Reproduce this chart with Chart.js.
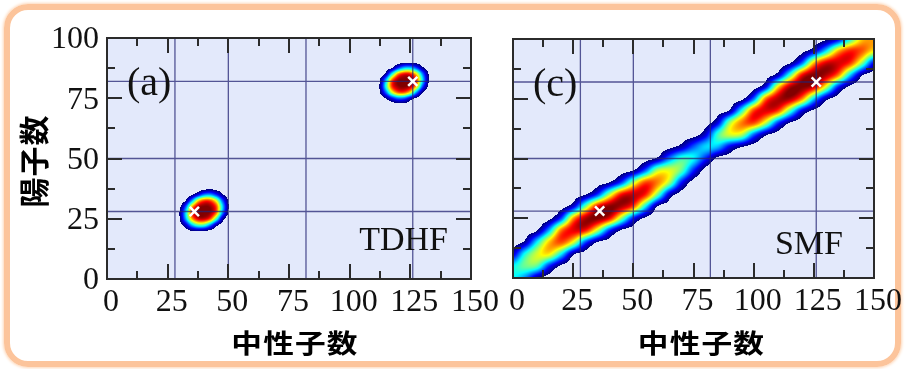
<!DOCTYPE html>
<html>
<head>
<meta charset="utf-8">
<script src="https://cdn.jsdelivr.net/npm/chart.js@4/dist/chart.umd.min.js"></script>
<style>
  body { margin: 0; background: #fff; }
  #frame { position: absolute; left: 4px; top: 4px; width: 897px; height: 363px; box-sizing: border-box;
           border: 6px solid #fcc49b; border-radius: 24px; box-shadow: 0 0 3px 1px #fdd6b6; }
  #left { position: absolute; left: 0; top: 0; }
  #right { position: absolute; left: 485px; top: 0; }
</style>
</head>
<body>
<div id="frame"></div>
<canvas id="left" width="505" height="369"></canvas>
<canvas id="right" width="423" height="369"></canvas>
<script>
// axis ticks
const nTicks = [0, 25, 50, 75, 100, 125, 150];
const zTicks = [0, 25, 50, 75, 100];
// magic numbers drawn as guide lines
const magicN = [28, 50, 82, 126];
const magicZ = [28, 50, 82];
// fragment markers (N, Z)
const fragN = [36, 126];
const fragZ = [28, 82];

// SMF probability map, % of peak; columns N = 0,5,...,150, rows Z = 100 (top) ... 0 (bottom)
const smfN0 = 0, smfZTop = 100, smfStep = 5;
const smfRows = [
  [0,0,0,0,0,0,0,0,0,0,0,0,0,0,0,0,0,0,0,0,0,0,0,0,0,0,2,13,42,69,74],
  [0,0,0,0,0,0,0,0,0,0,0,0,0,0,0,0,0,0,0,0,0,0,0,0,1,12,37,70,85,80,65],
  [0,0,0,0,0,0,0,0,0,0,0,0,0,0,0,0,0,0,0,0,0,0,0,3,25,70,91,92,84,54,16],
  [0,0,0,0,0,0,0,0,0,0,0,0,0,0,0,0,0,0,0,0,0,0,9,45,87,100,96,78,37,6,0],
  [0,0,0,0,0,0,0,0,0,0,0,0,0,0,0,0,0,0,0,0,0,15,65,95,100,92,61,20,2,0,0],
  [0,0,0,0,0,0,0,0,0,0,0,0,0,0,0,0,0,0,0,1,26,77,95,96,76,36,8,0,0,0,0],
  [0,0,0,0,0,0,0,0,0,0,0,0,0,0,0,0,0,0,6,42,82,91,83,49,15,2,0,0,0,0,0],
  [0,0,0,0,0,0,0,0,0,0,0,0,0,0,0,0,0,13,54,76,82,59,23,4,0,0,0,0,0,0,0],
  [0,0,0,0,0,0,0,0,0,0,0,0,0,0,0,0,12,45,60,57,26,6,0,0,0,0,0,0,0,0,0],
  [0,0,0,0,0,0,0,0,0,0,0,0,0,1,8,24,36,34,15,5,0,0,0,0,0,0,0,0,0,0,0],
  [0,0,0,0,0,0,0,0,0,0,0,0,6,28,45,40,19,1,0,0,0,0,0,0,0,0,0,0,0,0,0],
  [0,0,0,0,0,0,0,0,0,0,4,25,57,61,49,19,0,0,0,0,0,0,0,0,0,0,0,0,0,0,0],
  [0,0,0,0,0,0,0,0,4,22,56,81,76,56,18,0,0,0,0,0,0,0,0,0,0,0,0,0,0,0,0],
  [0,0,0,0,0,0,3,20,56,87,93,86,52,12,0,0,0,0,0,0,0,0,0,0,0,0,0,0,0,0,0],
  [0,0,0,0,0,12,50,87,99,96,81,40,4,0,0,0,0,0,0,0,0,0,0,0,0,0,0,0,0,0,0],
  [0,0,0,1,22,72,95,100,89,54,18,2,0,0,0,0,0,0,0,0,0,0,0,0,0,0,0,0,0,0,0],
  [0,0,3,32,76,90,87,59,22,3,0,0,0,0,0,0,0,0,0,0,0,0,0,0,0,0,0,0,0,0,0],
  [0,7,39,69,81,62,24,4,0,0,0,0,0,0,0,0,0,0,0,0,0,0,0,0,0,0,0,0,0,0,0],
  [12,42,60,65,39,6,0,0,0,0,0,0,0,0,0,0,0,0,0,0,0,0,0,0,0,0,0,0,0,0,0],
  [40,50,48,19,2,0,0,0,0,0,0,0,0,0,0,0,0,0,0,0,0,0,0,0,0,0,0,0,0,0,0],
  [41,29,7,0,0,0,0,0,0,0,0,0,0,0,0,0,0,0,0,0,0,0,0,0,0,0,0,0,0,0,0]
];

// TDHF light fragment, columns N = 27.5 ... 52.5, rows Z = 40 ... 17.5 (step 2.5)
const lightN0 = 27.5, lightZTop = 40, tdhfStep = 2.5;
const lightRows = [
  [0,0,0,0,0,0,0,0,0,0,0],
  [0,0,0,0,0,1,2,1,0,0,0],
  [0,0,0,3,14,28,31,20,6,0,0],
  [0,0,5,31,66,82,81,61,26,3,0],
  [0,2,25,70,95,100,98,82,38,5,0],
  [0,5,38,83,99,100,98,78,31,3,0],
  [0,4,33,71,91,93,81,47,10,0,0],
  [0,1,12,35,50,49,31,9,1,0,0],
  [0,0,1,4,6,5,2,0,0,0,0],
  [0,0,0,0,0,0,0,0,0,0,0]
];
// TDHF heavy fragment, columns N = 110 ... 135, rows Z = 92.5 ... 70
const heavyN0 = 110, heavyZTop = 92.5;
const heavyRows = [
  [0,0,0,0,0,0,0,0,0,0,0],
  [0,0,0,0,0,2,2,1,0,0,0],
  [0,0,0,5,22,36,37,24,7,0,0],
  [0,0,9,43,76,89,87,67,29,4,0],
  [0,4,34,79,98,100,98,83,38,5,0],
  [0,6,43,84,98,100,95,70,25,2,0],
  [0,4,27,61,80,81,65,31,5,0,0],
  [0,0,5,17,27,25,12,2,0,0,0],
  [0,0,0,0,1,1,0,0,0,0,0],
  [0,0,0,0,0,0,0,0,0,0,0]
];

const LEVEL_MIN = 4; // below this the map is left blank
const serif = '"Liberation Serif", "Times New Roman", serif';
const cjk = '"Noto Sans CJK JP", sans-serif';

function jet(t) {
  const c = u => Math.round(255 * Math.min(1, Math.max(0, u)));
  return [c(1.5 - Math.abs(4 * t - 3)), c(1.5 - Math.abs(4 * t - 2)), c(1.5 - Math.abs(4 * t - 1))];
}

// Catmull-Rom weights for smooth shading between grid cells
function crWeights(t) {
  const t2 = t * t, t3 = t2 * t;
  return [(-t3 + 2 * t2 - t) / 2, (3 * t3 - 5 * t2 + 2) / 2, (-3 * t3 + 4 * t2 + t) / 2, (t3 - t2) / 2];
}

function sample(p, n, z) {
  const cols = p.rows[0].length, nr = p.rows.length;
  let fx = (n - p.n0) / p.step, fy = (p.zTop - z) / p.step;
  if (fx < -0.05 || fy < -0.05 || fx > cols - 0.95 || fy > nr - 0.95) return 0;
  fx = Math.min(Math.max(fx, 0), cols - 1);
  fy = Math.min(Math.max(fy, 0), nr - 1);
  const i = Math.min(Math.floor(fx), cols - 2), j = Math.min(Math.floor(fy), nr - 2);
  const wx = crWeights(fx - i), wy = crWeights(fy - j);
  let v = 0;
  for (let b = 0; b < 4; b++) {
    const row = p.rows[Math.min(Math.max(j - 1 + b, 0), nr - 1)];
    let s = 0;
    for (let a = 0; a < 4; a++) s += wx[a] * row[Math.min(Math.max(i - 1 + a, 0), cols - 1)];
    v += wy[b] * s;
  }
  return Math.min(100, v);
}

function drawField(chart, patches) {
  const {ctx, chartArea: a, scales: {x, y}} = chart;
  const w = Math.round(a.right - a.left), h = Math.round(a.bottom - a.top);
  const off = document.createElement('canvas');
  off.width = w; off.height = h;
  const octx = off.getContext('2d');
  const img = octx.createImageData(w, h);
  for (let j = 0; j < h; j++) {
    const z = y.getValueForPixel(a.top + j + 0.5);
    for (let i = 0; i < w; i++) {
      const n = x.getValueForPixel(a.left + i + 0.5);
      let v = 0;
      patches.forEach(p => { v = Math.max(v, sample(p, n, z)); });
      if (v < LEVEL_MIN) continue;
      const rgb = jet((v - LEVEL_MIN) / (100 - LEVEL_MIN));
      const k = (j * w + i) * 4;
      img.data[k] = rgb[0]; img.data[k + 1] = rgb[1]; img.data[k + 2] = rgb[2]; img.data[k + 3] = 255;
    }
  }
  octx.putImageData(img, 0, 0);
  ctx.drawImage(off, a.left, a.top);
}

function panelPlugin(cfg) {
  return {
    id: 'panel',
    beforeDatasetsDraw(chart) {
      const {ctx, chartArea: a, scales: {x, y}} = chart;
      ctx.save();
      ctx.fillStyle = '#e3e9fb';
      ctx.fillRect(a.left, a.top, a.right - a.left, a.bottom - a.top);
      drawField(chart, cfg.patches);
      ctx.strokeStyle = 'rgba(35,35,115,0.75)';
      ctx.lineWidth = 1.3;
      ctx.beginPath();
      magicN.forEach(n => {
        const px = x.getPixelForValue(n);
        ctx.moveTo(px, a.top); ctx.lineTo(px, a.bottom);
      });
      magicZ.forEach(z => {
        const py = y.getPixelForValue(z);
        ctx.moveTo(a.left, py); ctx.lineTo(a.right, py);
      });
      ctx.stroke();
      ctx.restore();
    },
    afterDraw(chart) {
      const {ctx, chartArea: a, scales: {x, y}} = chart;
      ctx.save();
      // frame with inward ticks on all four sides
      ctx.strokeStyle = '#2b2b2b';
      ctx.lineWidth = 2;
      ctx.strokeRect(a.left, a.top, a.right - a.left, a.bottom - a.top);
      ctx.beginPath();
      for (let n = 12.5; n < 150; n += 12.5) {
        const len = n % 25 === 0 ? 15 : 8;
        const px = Math.round(x.getPixelForValue(n));
        ctx.moveTo(px, a.bottom); ctx.lineTo(px, a.bottom - len);
        ctx.moveTo(px, a.top); ctx.lineTo(px, a.top + len);
      }
      for (let z = 12.5; z < 100; z += 12.5) {
        const len = z % 25 === 0 ? 15 : 8;
        const py = Math.round(y.getPixelForValue(z));
        ctx.moveTo(a.left, py); ctx.lineTo(a.left + len, py);
        ctx.moveTo(a.right, py); ctx.lineTo(a.right - len, py);
      }
      ctx.stroke();

      // panel tag and method name
      ctx.fillStyle = '#111';
      ctx.textBaseline = 'alphabetic';
      ctx.textAlign = 'left';
      ctx.font = '40px ' + serif;
      ctx.fillText(cfg.tag, a.left + 20, a.top + 57);
      ctx.textAlign = 'right';
      ctx.font = '34px ' + serif;
      ctx.fillText(cfg.method, a.right - cfg.methodDx, a.bottom - cfg.methodDy);

      // axis titles
      ctx.fillStyle = '#000';
      ctx.textAlign = 'center';
      ctx.textBaseline = 'middle';
      ctx.save();
      ctx.translate((a.left + a.right) / 2 + cfg.titleDx, 343);
      ctx.scale(1.18, 1);
      ctx.font = 'bold 26px ' + cjk;
      ctx.letterSpacing = '1px';
      ctx.fillText('中性子数', 0, 0);
      ctx.restore();
      if (cfg.yTitle) {
        ctx.letterSpacing = '1px';
        ctx.font = 'bold 30px ' + cjk;
        ctx.translate(34, 161);
        ctx.rotate(-Math.PI / 2);
        ctx.fillText('陽子数', 0, 0);
      }
      ctx.restore();
    }
  };
}

function nAxis(height) {
  return {
    type: 'linear', min: 0, max: 150,
    afterBuildTicks: s => { s.ticks = nTicks.map(v => ({value: v})); },
    afterFit: s => { s.height = height; },
    grid: {display: false, drawTicks: false},
    border: {display: false},
    ticks: {autoSkip: false, maxRotation: 0, padding: 4, labelOffset: 4, color: '#111',
            font: {family: serif, size: 32}}
  };
}

function zAxis(show) {
  return {
    type: 'linear', min: 0, max: 100, display: show,
    afterBuildTicks: s => { s.ticks = zTicks.map(v => ({value: v})); },
    afterFit: s => { s.width = show ? 107 : 0; },
    grid: {display: false, drawTicks: false},
    border: {display: false},
    ticks: {autoSkip: false, padding: 8, labelOffset: 2, color: '#111',
            font: {family: serif, size: 32}}
  };
}

const markerData = fragN.map((n, i) => ({x: n, y: fragZ[i]}));

function makeChart(id, padding, xHeight, showY, cfg) {
  return new Chart(document.getElementById(id), {
    type: 'scatter',
    data: {
      datasets: [{
        data: markerData,
        pointStyle: 'crossRot',
        pointRadius: 6.5,
        borderWidth: 2.5,
        borderColor: '#ffffff',
        backgroundColor: '#ffffff'
      }]
    },
    options: {
      responsive: false,
      animation: false,
      devicePixelRatio: 1,
      layout: {padding: padding, autoPadding: false},
      plugins: {legend: {display: false}, tooltip: {enabled: false}},
      scales: {x: nAxis(xHeight), y: zAxis(showY)}
    },
    plugins: [panelPlugin(cfg)]
  });
}

makeChart('left', {left: 0, right: 34, top: 38, bottom: 0}, 90, true, {
  tag: '(a)', method: 'TDHF', methodDx: 23, methodDy: 29, titleDx: 6, yTitle: true,
  patches: [
    {n0: lightN0, zTop: lightZTop, step: tdhfStep, rows: lightRows},
    {n0: heavyN0, zTop: heavyZTop, step: tdhfStep, rows: heavyRows}
  ]
});

makeChart('right', {left: 28, right: 34, top: 39, bottom: 0}, 91, false, {
  tag: '(c)', method: 'SMF', methodDx: 31, methodDy: 24, titleDx: 8, yTitle: false,
  patches: [{n0: smfN0, zTop: smfZTop, step: smfStep, rows: smfRows}]
});
</script>
</body>
</html>
